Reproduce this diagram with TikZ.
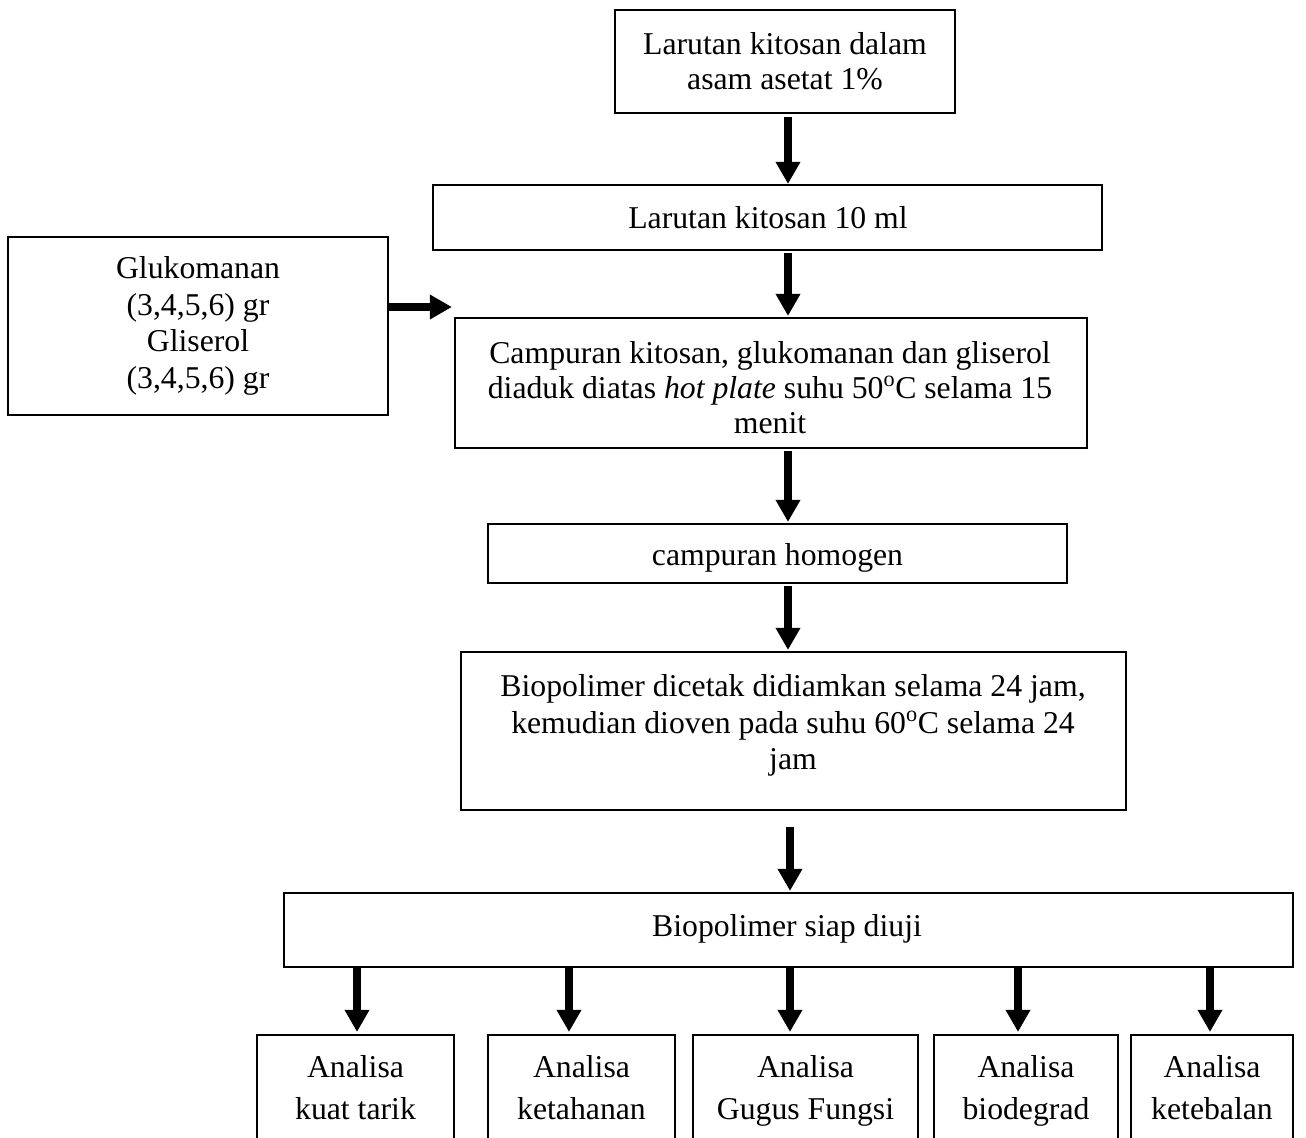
\documentclass[tikz,border=0pt]{standalone}
\usepackage{fontspec}
\setmainfont{Liberation Serif}
\usetikzlibrary{arrows.meta,calc}
\begin{document}
\begin{tikzpicture}[x=0.75pt,y=-0.75pt,
  bx/.style n args={2}{draw,line width=1.6pt,inner sep=0pt,rectangle,
    minimum width={#1*0.75pt},minimum height={#2*0.75pt}},
  txt/.style={align=center,inner sep=0pt,font=\fontsize{23.8}{26.5}\selectfont},
  arr/.style={line width=5.3pt,-{Triangle[length=16.5pt,width=17.5pt]}}]
\clip (0,0) rectangle (1306,1138);
% boxes
\node[bx={340}{103}] (b1) at (785,61.5) {};
\node[txt] (t1) at (785,61) {Larutan kitosan dalam\\asam asetat 1\%};
\node[bx={669}{65}] (b2) at (767.5,217.5) {};
\node[txt] (t2) at (768,218) {Larutan kitosan 10 ml};
\node[bx={380}{178}] (bl) at (198,326) {};
\node[txt,font=\fontsize{23.8}{27.5}\selectfont] (tl) at (198,326) {Glukomanan\\(3,4,5,6) gr\\Gliserol\\(3,4,5,6) gr};
\node[bx={632}{130}] (b3) at (771,383) {};
\node[txt] (t3) at (770,387.5) {Campuran kitosan, glukomanan dan gliserol\\diaduk diatas \textit{hot plate} suhu 50\textsuperscript{o}C selama 15\\menit};
\node[bx={579}{59}] (b4) at (777.5,553.5) {};
\node[txt] (t4) at (777.5,558) {campuran homogen};
\node[bx={665}{158}] (b5) at (793.5,731) {};
\node[txt,font=\fontsize{23.8}{27.5}\selectfont] (t5) at (793,725.5) {Biopolimer dicetak didiamkan selama 24 jam,\\kemudian dioven pada suhu 60\textsuperscript{o}C selama 24\\jam};
\node[bx={1009}{74}] (b6) at (788.5,930) {};
\node[txt] (t6) at (787,929) {Biopolimer siap diuji};
\tikzset{abox/.style={txt,draw,line width=1.6pt,minimum height={110*0.75pt},font=\fontsize{23.8}{31.5}\selectfont}}
\node[abox,minimum width={197*0.75pt}] (a1) at (355.5,1090) {\strut Analisa\\\strut kuat tarik};
\node[abox,minimum width={187*0.75pt}] (a2) at (581.5,1090) {\strut Analisa\\\strut ketahanan};
\node[abox,minimum width={225*0.75pt}] (a3) at (805.5,1090) {\strut Analisa\\\strut Gugus Fungsi};
\node[abox,minimum width={184*0.75pt}] (a4) at (1026,1090) {\strut Analisa\\\strut biodegrad};
\node[abox,minimum width={162*0.75pt}] (a5) at (1212,1090) {\strut Analisa\\\strut ketebalan};
% arrow axes
\coordinate (ax) at (788,0);
\coordinate (c1) at (357,0);
\coordinate (c2) at (569,0);
\coordinate (c3) at (790,0);
\coordinate (c4) at (1018,0);
\coordinate (c5) at (1210,0);
% arrows
\draw[arr] ($(b1.south -| ax)+(0,3)$) -- (b2.north -| ax);
\draw[arr] ($(b2.south -| ax)+(0,2)$) -- ($(b3.north -| ax)+(0,-1)$);
\draw[arr] ($(b3.south -| ax)+(0,2)$) -- ($(b4.north -| ax)+(0,-1)$);
\draw[arr] ($(b4.south -| ax)+(0,2)$) -- ($(b5.north -| ax)+(0,-1)$);
\draw[arr] ($(b5.south -| c3)+(0,16)$) -- ($(b6.north -| c3)+(0,-1)$);
\draw[arr] ($(bl.east)+(0,-19)$) -- ($(b3.west |- bl.east)+(-2,-19)$);
\foreach \i in {1,...,5}{
  \draw[arr] (b6.south -| c\i) -- ($(a\i.north -| c\i)+(0,-2)$);
}
\end{tikzpicture}
\end{document}
